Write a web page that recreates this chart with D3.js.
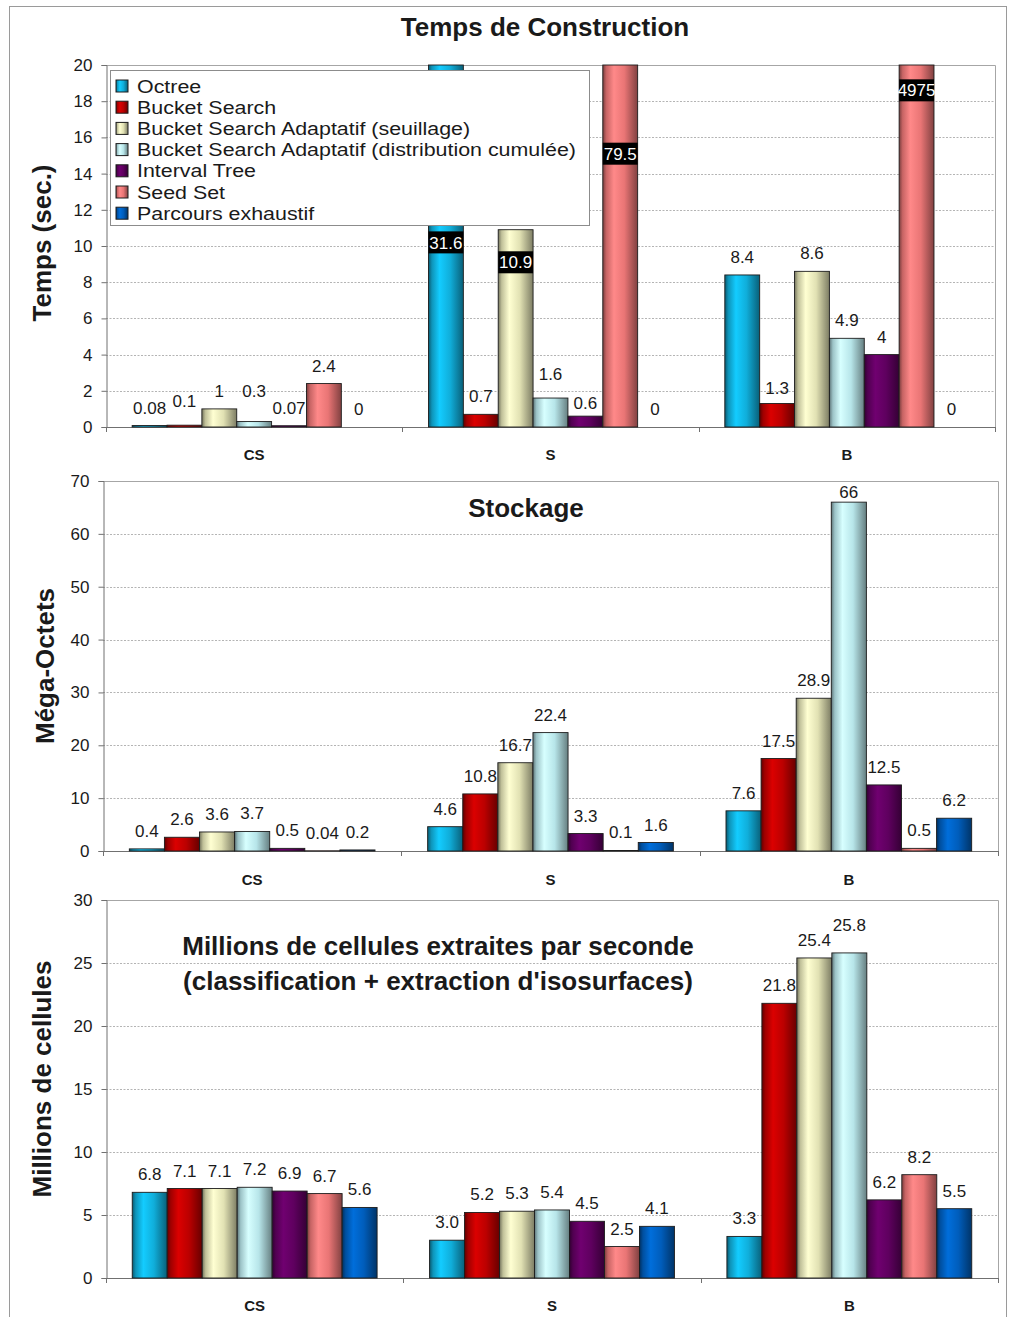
<!DOCTYPE html>
<html>
<head>
<meta charset="utf-8">
<script src="https://cdn.jsdelivr.net/npm/d3@7"></script>
<style>
  body { margin: 0; background: #fff; }
  svg { display: block; }
  text { font-family: "Liberation Sans", Arial, sans-serif; fill: #1a1a1a; }
</style>
</head>
<body>
<svg id="chart" width="1011" height="1317"></svg>
<script>
// ---- data ----
const categories = ["CS", "S", "B"];
const seriesNames = [
  "Octree",
  "Bucket Search",
  "Bucket Search Adaptatif (seuillage)",
  "Bucket Search Adaptatif (distribution cumulée)",
  "Interval Tree",
  "Seed Set",
  "Parcours exhaustif"
];
const seriesColors = ["#12BEEE", "#CC0000", "#F6F6C4", "#C8FAFF", "#680068", "#FF8080", "#0066CC"];

// one row per category (CS, S, B), one value per series
const buildTime = [
  [0.08, 0.1, 1, 0.3, 0.07, 2.4, 0],
  [31.6, 0.7, 10.9, 1.6, 0.6, 79.5, 0],
  [8.4, 1.3, 8.6, 4.9, 4, 4975, 0]
];
const storage = [
  [0.4, 2.6, 3.6, 3.7, 0.5, 0.04, 0.2],
  [4.6, 10.8, 16.7, 22.4, 3.3, 0.1, 1.6],
  [7.6, 17.5, 28.9, 66, 12.5, 0.5, 6.2]
];
const cellRate = [
  [6.8, 7.1, 7.1, 7.2, 6.9, 6.7, 5.6],
  [3.0, 5.2, 5.3, 5.4, 4.5, 2.5, 4.1],
  [3.3, 21.8, 25.4, 25.8, 6.2, 8.2, 5.5]
];

const buildTimeTicks = [0, 2, 4, 6, 8, 10, 12, 14, 16, 18, 20];
const storageTicks = [0, 10, 20, 30, 40, 50, 60, 70];
const cellRateTicks = [0, 5, 10, 15, 20, 25, 30];

// labels written in black boxes inside the bars (value-axis height where the box sits)
const boxedLabels = [
  {cat: 1, s: 0, at: 10.2},
  {cat: 1, s: 2, at: 9.1},
  {cat: 1, s: 5, at: 15.1},
  {cat: 2, s: 5, at: 18.6}
];
// small vertical nudges of some labels (px), as placed in the original
const labelNudge = [
  {"0:1": -6, "0:3": -13, "1:3": -6, "1:4": 5, "2:1": 3},
  {"2:3": 8},
  {"2:3": -10}
];

const panels = [
  {values: buildTime, ticks: buildTimeTicks, left: 106, right: 995, top: 65, bottom: 427,
   catY: 460, yTitle: "Temps (sec.)", yTitleX: 42, yTitleY: 243, fmt: d => String(d)},
  {values: storage, ticks: storageTicks, left: 103, right: 998, top: 481, bottom: 851,
   catY: 885, yTitle: "Méga-Octets", yTitleX: 45, yTitleY: 666, fmt: d => String(d)},
  {values: cellRate, ticks: cellRateTicks, left: 106, right: 998, top: 900, bottom: 1278,
   catY: 1311, yTitle: "Millions de cellules", yTitleX: 42, yTitleY: 1079, fmt: d3.format(".1f")}
];

const svg = d3.select("#chart");

// outer frame
svg.append("rect").attr("x", 9.5).attr("y", 6.5).attr("width", 997).attr("height", 1340)
  .attr("fill", "none").attr("stroke", "#9a9a9a");

// bar gradients
const defs = svg.append("defs");
seriesColors.forEach(function(c, i) {
  const base = d3.color(c);
  const g = defs.append("linearGradient").attr("id", "grad" + i)
    .attr("x1", 0).attr("x2", 1).attr("y1", 0).attr("y2", 0);
  g.append("stop").attr("offset", "0%").attr("stop-color", base.darker(2.1));
  g.append("stop").attr("offset", "10%").attr("stop-color", base.darker(0.7));
  g.append("stop").attr("offset", "32%").attr("stop-color", base.brighter(0.2));
  g.append("stop").attr("offset", "62%").attr("stop-color", base.darker(0.25));
  g.append("stop").attr("offset", "100%").attr("stop-color", base.darker(1.9));
});

panels.forEach(function(p, pi) {
  const g = svg.append("g");
  const x0 = d3.scaleBand().domain(categories).range([p.left, p.right]);
  const x1 = d3.scaleBand().domain(d3.range(seriesNames.length))
    .range([0, x0.bandwidth()]).paddingInner(0).paddingOuter(0.75);
  const y = d3.scaleLinear().domain([0, d3.max(p.ticks)]).range([p.bottom, p.top]).clamp(true);

  // grid lines
  g.selectAll(".grid").data(p.ticks.filter(t => t > 0)).enter().append("line")
    .attr("x1", p.left).attr("x2", p.right)
    .attr("y1", d => Math.round(y(d)) + 0.5).attr("y2", d => Math.round(y(d)) + 0.5)
    .attr("stroke", "#b4b4b4").attr("stroke-dasharray", "2,1.5");

  // plot frame (top / right)
  g.append("path")
    .attr("d", `M${p.left},${p.top + 0.5}H${p.right + 0.5}V${p.bottom}`)
    .attr("fill", "none").attr("stroke", "#a6a6a6");

  // y axis
  const yAxis = d3.axisLeft(y).tickValues(p.ticks).tickSize(5).tickPadding(9);
  const ya = g.append("g").attr("transform", `translate(${p.left + 0.5},0)`).call(yAxis);
  ya.select(".domain").attr("stroke", "#707070");
  ya.selectAll(".tick line").attr("stroke", "#707070");
  ya.selectAll(".tick text").attr("font-size", 17).attr("fill", "#1a1a1a")
    .attr("font-family", "Liberation Sans, Arial, sans-serif");

  // x axis
  g.append("line").attr("x1", p.left).attr("x2", p.right + 1)
    .attr("y1", p.bottom + 0.5).attr("y2", p.bottom + 0.5).attr("stroke", "#707070");
  const bounds = categories.map(c => x0(c)).concat([p.right]);
  g.selectAll(".ctick").data(bounds).enter().append("line")
    .attr("x1", d => Math.round(d) + 0.5).attr("x2", d => Math.round(d) + 0.5)
    .attr("y1", p.bottom).attr("y2", p.bottom + 5).attr("stroke", "#707070");
  g.selectAll(".clabel").data(categories).enter().append("text")
    .attr("x", d => x0(d) + x0.bandwidth() / 2).attr("y", p.catY)
    .attr("text-anchor", "middle").attr("font-size", 15).attr("font-weight", "bold")
    .text(d => d);

  // y title
  g.append("text")
    .attr("transform", `translate(${p.yTitleX},${p.yTitleY}) rotate(-90)`)
    .attr("text-anchor", "middle").attr("dy", "0.35em")
    .attr("font-size", 26).attr("font-weight", "bold").text(p.yTitle);

  // bars
  const rows = [];
  p.values.forEach(function(row, ci) {
    row.forEach(function(v, si) { rows.push({cat: ci, s: si, v: v}); });
  });
  const bx = d => x0(categories[d.cat]) + x1(d.s);
  g.selectAll(".bar").data(rows.filter(d => d.v > 0)).enter().append("rect")
    .attr("x", d => bx(d)).attr("width", x1.bandwidth())
    .attr("y", d => y(d.v)).attr("height", d => p.bottom - y(d.v))
    .attr("fill", d => `url(#grad${d.s})`)
    .attr("stroke", "#1c1c1c").attr("stroke-width", 0.9);

  // value labels
  const boxed = pi === 0 ? boxedLabels : [];
  const isBoxed = d => boxed.some(b => b.cat === d.cat && b.s === d.s);
  const nudge = labelNudge[pi];
  g.selectAll(".vlabel").data(rows.filter(d => !isBoxed(d))).enter().append("text")
    .attr("x", d => bx(d) + x1.bandwidth() / 2)
    .attr("y", d => y(d.v) - 12 + (nudge[d.cat + ":" + d.s] || 0))
    .attr("text-anchor", "middle").attr("font-size", 17).attr("fill", "#1a1a1a")
    .text(d => p.fmt(d.v));

  boxed.forEach(function(b) {
    const d = rows.find(r => r.cat === b.cat && r.s === b.s);
    const cx = bx(d) + x1.bandwidth() / 2;
    const cy = y(b.at);
    const t = g.append("text").attr("x", cx).attr("y", cy).attr("dy", "0.36em")
      .attr("text-anchor", "middle").attr("font-size", 17).style("fill", "#fff")
      .text(p.fmt(d.v));
    const w = Math.min(t.node().getComputedTextLength() + 3, x1.bandwidth());
    g.insert("rect", function() { return t.node(); })
      .attr("x", cx - w / 2).attr("y", cy - 11).attr("width", w).attr("height", 22)
      .attr("fill", "#000");
  });
});

// chart titles
svg.append("text").attr("x", 545).attr("y", 36).attr("text-anchor", "middle")
  .attr("font-size", 26).attr("font-weight", "bold").text("Temps de Construction");
svg.append("text").attr("x", 526).attr("y", 517).attr("text-anchor", "middle")
  .attr("font-size", 26).attr("font-weight", "bold").text("Stockage");
svg.append("text").attr("x", 438).attr("y", 955).attr("text-anchor", "middle")
  .attr("font-size", 26).attr("font-weight", "bold")
  .text("Millions de cellules extraites par seconde");
svg.append("text").attr("x", 438).attr("y", 990).attr("text-anchor", "middle")
  .attr("font-size", 26).attr("font-weight", "bold")
  .text("(classification + extraction d'isosurfaces)");

// legend (drawn over the first chart)
const legend = svg.append("g").attr("transform", "translate(110,70)");
legend.append("rect").attr("x", 0.5).attr("y", 0.5).attr("width", 479).attr("height", 155)
  .attr("fill", "#fff").attr("stroke", "#8c8c8c");
const item = legend.selectAll(".item").data(seriesNames).enter().append("g")
  .attr("transform", (d, i) => `translate(6,${16 + i * 21.2})`);
item.append("rect").attr("x", 0).attr("y", -6).attr("width", 12).attr("height", 12)
  .attr("fill", (d, i) => `url(#grad${i})`).attr("stroke", "#1c1c1c");
// text a bit wider than the font, as in the original
item.append("text").attr("transform", "translate(21,0) scale(1.17,1)").attr("dy", "0.36em")
  .attr("font-size", 18.3).text(d => d);
</script>
</body>
</html>
